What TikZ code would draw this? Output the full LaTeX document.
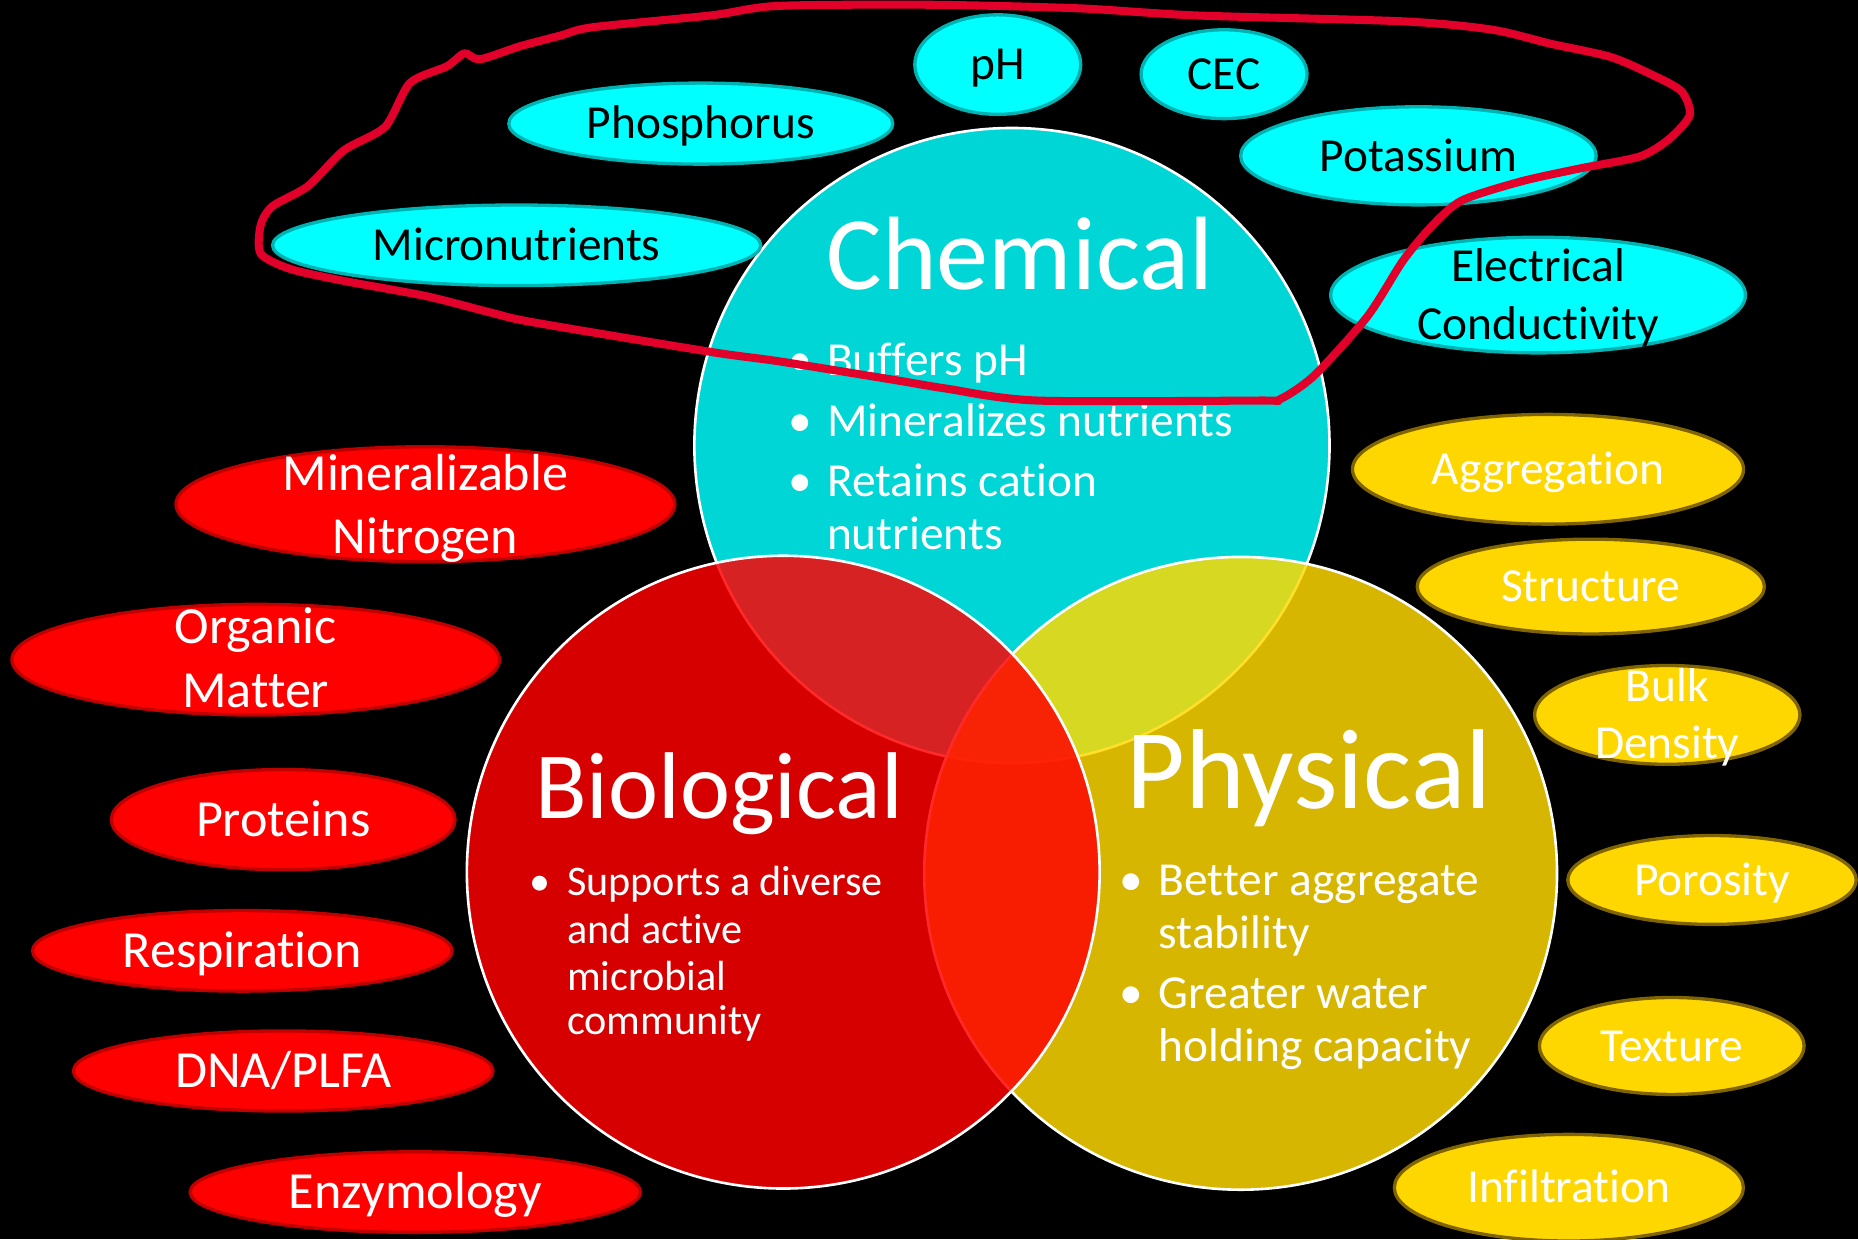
\documentclass[tikz,border=0pt]{standalone}
\usepackage{fontspec}
\setmainfont{Carlito}[Ligatures=NoCommon]
\usepackage{tikz}
\usetikzlibrary{shapes.geometric}
\usepackage{xcolor}
\definecolor{chemcyan}{RGB}{0,255,255}
\definecolor{biored}{RGB}{255,0,0}
\definecolor{physgold}{RGB}{255,217,0}
\definecolor{blobcyan}{RGB}{0,255,255}
\definecolor{blobcyanrim}{RGB}{0,178,178}
\definecolor{blobred}{RGB}{255,0,0}
\definecolor{blobredrim}{RGB}{192,0,0}
\definecolor{blobgold}{RGB}{255,215,0}
\definecolor{blobgoldrim}{RGB}{127,100,0}
\definecolor{loopred}{RGB}{226,0,42}

\begin{document}
\begin{tikzpicture}[x=0.5pt, y=-0.5pt,
  disk/.style={draw=white, line width=1.1pt, fill opacity=0.84},
  blob/.style={ellipse, draw, line width=1.4pt, inner sep=0pt,
    text height=12.9pt, text depth=0pt, font=\fontsize{20pt}{24pt}\selectfont},
  cyanblob/.style={blob, fill=blobcyan, draw=blobcyanrim, text=black},
  redblob/.style={blob, fill=blobred, draw=blobredrim, text=white,
    text height=14.2pt, font=\fontsize{22pt}{26pt}\selectfont},
  goldblob/.style={blob, fill=blobgold, draw=blobgoldrim, text=white},
  word/.style={anchor=base, inner sep=0pt},
  cyanword/.style={word, text=black, font=\fontsize{20pt}{24pt}\selectfont},
  redword/.style={word, text=white, font=\fontsize{22pt}{26pt}\selectfont},
  goldword/.style={word, text=white, font=\fontsize{20pt}{24pt}\selectfont},
  title/.style={word, text=white},
  dot/.style={word, text=white},
  item/.style={anchor=base west, inner sep=0pt, text=white},
  loopline/.style={draw=loopred, line width=3.4pt, line cap=round, line join=round}]

  % background
  \fill[black] (0,0) rectangle (1568,1046);
  \useasboundingbox (0,0) rectangle (1568,1046);

  % the three circles: chemical, physical, biological
  \draw[disk, fill=chemcyan] (854,376) circle (134pt);
  \draw[disk, fill=physgold] (1047,737) circle (133.5pt);
  \draw[disk, fill=biored] (661,736) circle (133.5pt);

  % titles
  \node[title, font=\fontsize{44pt}{50pt}\selectfont] (chemtitle) at (860.7,244.7) {Chemical};
  \node[title, font=\fontsize{40pt}{46pt}\selectfont] (biotitle) at (607,690.5) {Biological};
  \node[title, font=\fontsize{48pt}{54pt}\selectfont] (phystitle) at (1104.7,682.2) {Physical};

  % chemical bullets
  \begin{scope}[every node/.append style={font=\fontsize{20pt}{24pt}\selectfont}]
    \node[dot] (chemdot1) at (675.7,316.5) {\textbullet};
    \node[item] (chemitem1) at (697.6,316.5) {Buffers pH};
    \node[dot] (chemdot2) at (675.7,368.5) {\textbullet};
    \node[item] (chemitem2) at (697.6,368.5) {Mineralizes nutrients};
    \node[dot] (chemdot3) at (675.7,419) {\textbullet};
    \node[item] (chemitem3) at (697.6,419) {Retains cation};
    \node[item] (chemitem3b) at (697.6,464) {nutrients};
  \end{scope}

  % biological bullets
  \begin{scope}[every node/.append style={font=\fontsize{17.8pt}{21pt}\selectfont}]
    \node[dot] (biodot1) at (455.7,755.3) {\textbullet};
    \node[item] (bioitem1) at (478.2,755.3) {Supports a diverse};
    \node[item] (bioitem1b) at (478.2,796) {and active};
    \node[item] (bioitem1c) at (478.2,835.5) {microbial};
    \node[item] (bioitem1d) at (478.2,873.4) {community};
  \end{scope}

  % physical bullets
  \begin{scope}[every node/.append style={font=\fontsize{20pt}{24pt}\selectfont}]
    \node[dot] (physdot1) at (955,755.3) {\textbullet};
    \node[item] (physitem1) at (977.5,755.3) {Better aggregate};
    \node[item] (physitem1b) at (977.5,800.3) {stability};
    \node[dot] (physdot2) at (955,851) {\textbullet};
    \node[item] (physitem2) at (977.5,851) {Greater water};
    \node[item] (physitem2b) at (977.5,896) {holding capacity};
  \end{scope}

  % chemical indicators
  \node[cyanblob, minimum width=70pt, minimum height=42pt] (ph) at (842,54.5) {pH};
  \node[cyanblob, minimum width=70pt, minimum height=37.5pt] (cec) at (1033,62.6) {CEC};
  \node[cyanblob, minimum width=162pt, minimum height=34.2pt] (phos) at (591.4,104.3) {Phosphorus};
  \node[cyanblob, minimum width=150pt, minimum height=41.4pt] (pot) at (1197,131.5) {Potassium};
  \node[cyanblob, minimum width=206pt, minimum height=34pt] (micro) at (436,207) {Micronutrients};
  \node[cyanblob, minimum width=175pt, minimum height=48.8pt] (ec) at (1298,249) {};
  \node[cyanword] (eca) at (1298,237.6) {Electrical};
  \node[cyanword] (ecb) at (1298,286.3) {Conductivity};

  % biological indicators
  \node[redblob, minimum width=210.5pt, minimum height=48.5pt] (minn) at (359,425.5) {};
  \node[redword] (minna) at (359,413.6) {Mineralizable};
  \node[redword] (minnb) at (359,467) {Nitrogen};
  \node[redblob, minimum width=205.7pt, minimum height=46.7pt] (orgm) at (215.8,556.7) {};
  \node[redword] (orgma) at (215.8,543.3) {Organic};
  \node[redword] (orgmb) at (215.8,596.7) {Matter};
  \node[redblob, minimum width=145pt, minimum height=42.3pt] (prot) at (239,691.7) {Proteins};
  \node[redblob, minimum width=177pt, minimum height=34pt] (resp) at (204.5,802.4) {Respiration};
  \node[redblob, minimum width=177pt, minimum height=33.8pt] (dna) at (239,903.8) {DNA/PLFA};
  \node[redblob, minimum width=190pt, minimum height=34pt] (enz) at (350.5,1006) {Enzymology};

  % physical indicators
  \node[goldblob, minimum width=165pt, minimum height=46.3pt] (aggr) at (1306.4,396) {Aggregation};
  \node[goldblob, minimum width=146.5pt, minimum height=40pt] (struc) at (1342.5,495) {Structure};
  \node[goldblob, minimum width=112pt, minimum height=41.7pt] (bulk) at (1407,603.3) {};
  \node[goldword] (bulka) at (1407,591.6) {Bulk};
  \node[goldword] (bulkb) at (1407,640) {Density};
  \node[goldblob, minimum width=121.7pt, minimum height=37.5pt] (poro) at (1444.8,742.6) {Porosity};
  \node[goldblob, minimum width=111.7pt, minimum height=40.9pt] (textu) at (1410.8,882.7) {Texture};
  \node[goldblob, minimum width=147.3pt, minimum height=45pt] (infil) at (1324,1002.3) {Infiltration};

  % hand-drawn loop round the chemical indicators
  \draw[loopline] plot[smooth cycle, tension=0.45] coordinates {
    (392,45) (405,50) (439,39) (473,30) (500,23) (600,13) (656,5) (785,4)
    (910,7) (1009,13) (1184,18) (1259,25) (1309,37) (1359,48) (1394,63)
    (1419,77) (1426,97) (1409,117) (1384,132) (1334,142) (1284,153)
    (1234,169) (1209,190) (1184,220) (1154,267) (1109,317) (1080,337)
    (1063,338) (875,338) (799,328) (757,321) (658,305) (600,297) (450,272)
    (415,264) (360,250) (290,237) (245,227) (220,214) (220,190) (230,174)
    (260,157) (290,127) (325,107) (346,70) (377,56)};
\end{tikzpicture}
\end{document}
